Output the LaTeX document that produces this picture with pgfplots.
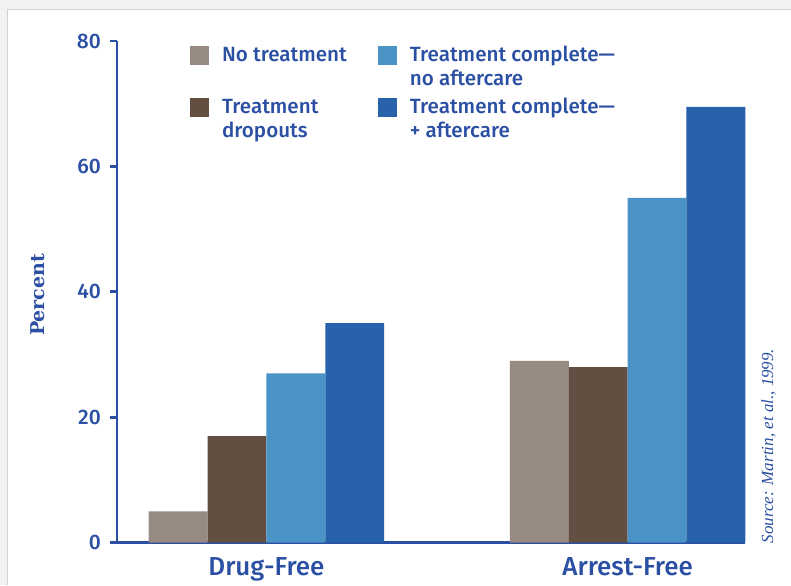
\documentclass[border=0pt]{standalone}
\usepackage{pgfplots}
\pgfplotsset{compat=1.18}
\usepackage{fontspec}
\setmainfont{Fira Sans}[UprightFont=* Medium]
\newfontfamily\slab{DejaVu Serif}
\newfontfamily\srcfont{Liberation Serif}
\definecolor{nt}{HTML}{978A83}
\definecolor{dr}{HTML}{634F42}
\definecolor{lb}{HTML}{4A93C6}
\definecolor{db}{HTML}{2862AA}
\definecolor{ab}{HTML}{2A4FA3}
\begin{document}
\begin{tikzpicture}
\fill[gray!10] (0,0) rectangle (395.5pt,292.5pt);
\fill[white] (3.5pt,0) rectangle (395.5pt,288pt);
\draw[gray!35] (3.5pt,0) -- (3.5pt,288pt) -- (395.5pt,288pt);
\useasboundingbox (0,0) rectangle (395.5pt,292.5pt);
\begin{axis}[
  at={(58.5pt,21pt)}, anchor=south west,
  scale only axis, width=314pt, height=251pt,
  xmin=-0.414, xmax=1.324, ymin=0, ymax=80,
  clip=false,
  axis lines*=left,
  axis line style={draw=ab, line width=1.25pt},
  ybar=0pt, bar width=0.163,
  xtick={0,1}, xticklabels={Drug-Free, Arrest-Free},
  x tick style={draw=none},
  xticklabel style={font=\fontsize{13}{15}\selectfont, text=ab, yshift=-0.5pt},
  ytick={0,20,40,60,80},
  tick align=outside, major tick length=3.5pt,
  y tick style={draw=ab, line width=1.4pt},
  yticklabel style={font=\fontsize{10.5}{12}\selectfont, text=ab, xshift=-1pt},
  /pgf/number format/assume math mode=true,
  ylabel={\slab\bfseries Percent},
  y label style={at={(axis description cs:-0.127,0.494)}, anchor=center, font=\fontsize{9.5}{11}\selectfont, text=ab},
  sq/.style={legend image code/.code={\fill[##1] (0pt,1pt) rectangle (9.5pt,10.5pt);}},
  legend columns=2, transpose legend,
  legend style={at={(0.116,0.993)}, anchor=north west, draw=none, fill=none, inner sep=0pt,
    font=\fontsize{10.3}{12}\selectfont, text=ab, nodes={align=left, inner sep=0pt},
    row sep=4pt,
    /tikz/every odd column/.append style={column sep=6.5pt},
    /tikz/every even column/.append style={column sep=15.5pt}},
  legend cell align=left,
]
\addplot[fill=nt, draw=none, sq] coordinates {(0,5) (1,29)};
\addplot[fill=dr, draw=none, sq] coordinates {(0,17) (1,28)};
\addplot[fill=lb, draw=none, sq] coordinates {(0,27) (1,55)};
\addplot[fill=db, draw=none, sq] coordinates {(0,35) (1,69.5)};
\legend{\strut No treatment\\\strut, \strut Treatment\\\strut dropouts, \strut Treatment complete—\\\strut no aftercare, \strut Treatment complete—\\\strut + aftercare}
\node[rotate=90, text=ab, font=\srcfont\itshape\fontsize{8.5}{10}\selectfont] at (rel axis cs:1.038,0.193) {Source: Martin, et al., 1999.};
\end{axis}
\end{tikzpicture}
\end{document}
